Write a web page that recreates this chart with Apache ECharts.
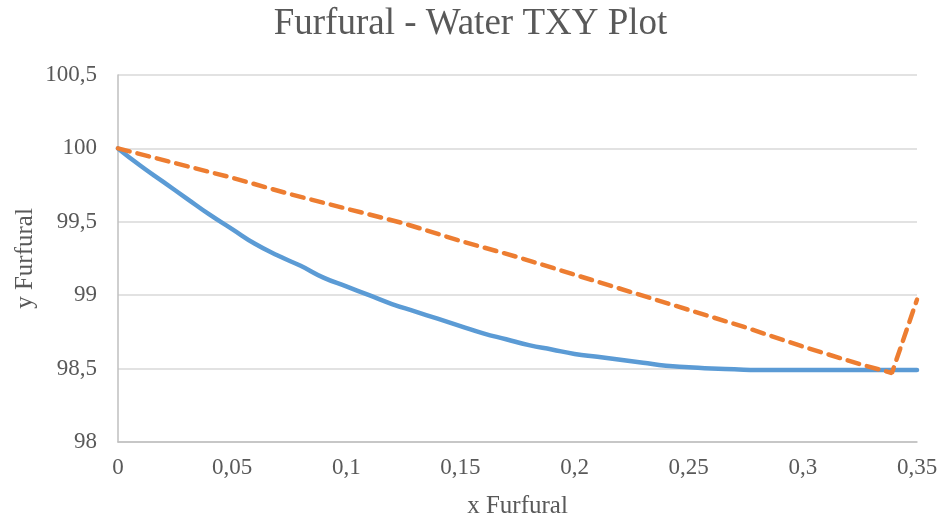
<!DOCTYPE html>
<html>
<head>
<meta charset="utf-8">
<script src="https://cdn.jsdelivr.net/npm/echarts@6/dist/echarts.min.js"></script>
<style>html,body{margin:0;padding:0;background:#fff;}#c{width:941px;height:522px;}</style>
</head>
<body>
<div id="c"></div>
<script>
const blueX = [0,0.01,0.02,0.03,0.04,0.05,0.06,0.07,0.08,0.09,0.10,0.11,0.12,0.13,0.14,0.15,0.16,0.17,0.18,0.19,0.20,0.21,0.22,0.23,0.24,0.25,0.26,0.27,0.28,0.29,0.30,0.31,0.32,0.33,0.34,0.35];
const blueY = [100,99.88,99.77,99.66,99.55,99.45,99.35,99.27,99.20,99.12,99.06,99.00,98.94,98.89,98.84,98.79,98.74,98.70,98.66,98.63,98.60,98.58,98.56,98.54,98.52,98.51,98.50,98.495,98.49,98.49,98.49,98.49,98.49,98.49,98.49,98.49];
const orangeX = [0,0.025,0.05,0.075,0.1,0.125,0.15,0.175,0.2,0.225,0.25,0.275,0.3,0.325,0.339,0.35];
const orangeY = [100,99.90,99.80,99.69,99.59,99.49,99.37,99.26,99.14,99.02,98.90,98.78,98.65,98.53,98.47,98.97];
const xTicks = {min:0, max:0.35, interval:0.05};
const yTicks = {min:98, max:100.5, interval:0.5};

const fmt = v => String(Math.round(v*1000)/1000).replace('.', ',');
const font = '"Liberation Serif","Times New Roman",serif';
const chart = echarts.init(document.getElementById('c'));
chart.setOption({
  animation:false,
  backgroundColor:'#fff',
  title:{text:'Furfural - Water TXY Plot', left:'center', top:1,
    textStyle:{fontFamily:font, fontSize:37, fontWeight:'normal', color:'#595959'}},
  grid:{left:118, right:24, top:75, bottom:80, outerBoundsMode:'none', containLabel:false},
  xAxis:{type:'value', min:xTicks.min, max:xTicks.max, interval:xTicks.interval,
    name:'x Furfural', nameLocation:'middle', nameGap:52, nameMoveOverlap:false,
    nameTextStyle:{fontFamily:font, fontSize:25, color:'#595959'},
    axisLine:{lineStyle:{color:'#BFBFBF', width:1.5}}, axisTick:{show:false},
    splitLine:{show:false},
    axisLabel:{formatter:fmt, fontFamily:font, fontSize:23, color:'#595959', margin:14}},
  yAxis:{type:'value', min:yTicks.min, max:yTicks.max, interval:yTicks.interval,
    name:'y Furfural', nameLocation:'middle', nameGap:80, nameMoveOverlap:false,
    nameTextStyle:{fontFamily:font, fontSize:25, color:'#595959'},
    axisLine:{show:true, lineStyle:{color:'#BFBFBF', width:1.5}}, axisTick:{show:false},
    splitLine:{lineStyle:{color:'#D9D9D9', width:1.5}},
    axisLabel:{formatter:fmt, fontFamily:font, fontSize:23, color:'#595959', margin:21}},
  series:[
    {type:'line', data:blueX.map((x,i)=>[x,blueY[i]]), smooth:true, symbol:'none',
      lineStyle:{color:'#5B9BD5', width:4.5, cap:'round'}},
    {type:'line', data:orangeX.map((x,i)=>[x,orangeY[i]]), smooth:false, symbol:'none',
      lineStyle:{color:'#ED7D31', width:4.5, type:[12,8], cap:'round'}}
  ]
});
</script>
</body>
</html>
